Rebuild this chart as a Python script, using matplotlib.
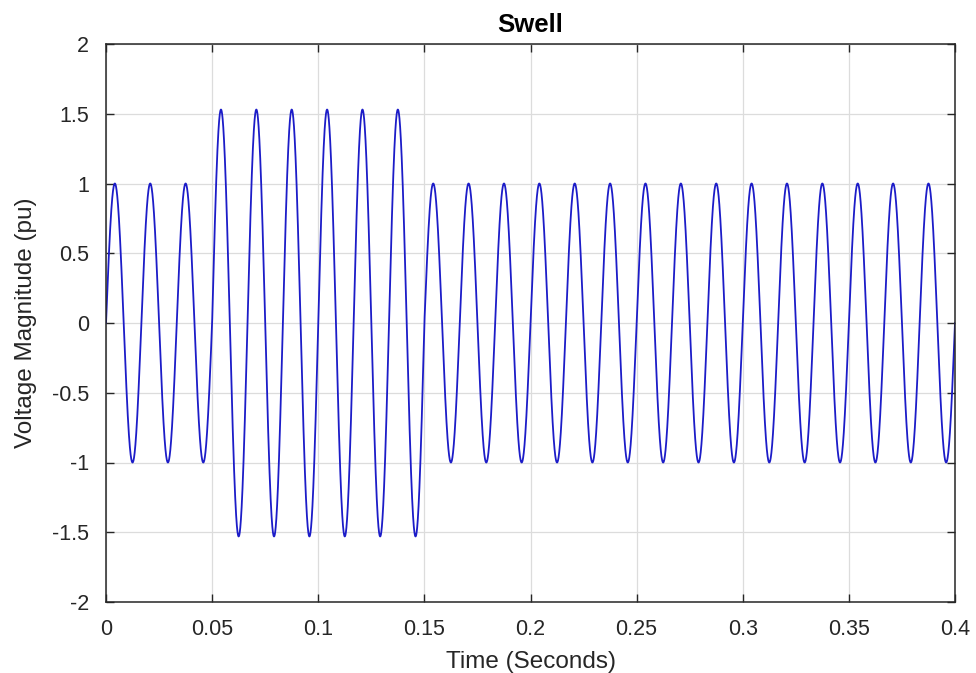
import numpy as np
import matplotlib
matplotlib.use("Agg")
import matplotlib.pyplot as plt

# waveform: 60 Hz, one peak amplitude per cycle
freq = 60.0
t_end = 0.4
cycle_amp = [1.0, 1.0, 1.0,
             1.53, 1.53, 1.53, 1.53, 1.53, 1.53,
             1.0, 1.0, 1.0, 1.0, 1.0, 1.0, 1.0, 1.0,
             1.0, 1.0, 1.0, 1.0, 1.0, 1.0, 1.0]

xticks = [0, 0.05, 0.1, 0.15, 0.2, 0.25, 0.3, 0.35, 0.4]
xtick_labels = ["0", "0.05", "0.1", "0.15", "0.2", "0.25", "0.3", "0.35", "0.4"]
yticks = [-2, -1.5, -1, -0.5, 0, 0.5, 1, 1.5, 2]
ytick_labels = ["-2", "-1.5", "-1", "-0.5", "0", "0.5", "1", "1.5", "2"]

t = np.linspace(0, t_end, 8000)
idx = np.minimum((t * freq).astype(int), len(cycle_amp) - 1)
amp = np.array(cycle_amp)[idx]
v = amp * np.sin(2 * np.pi * freq * t)

plt.rcParams['font.family'] = ['Liberation Sans', 'DejaVu Sans']
txt = '#262626'

fig = plt.figure(figsize=(9.76, 6.73), dpi=100)
ax = fig.add_axes([106 / 976, 1 - 602 / 673, 849 / 976, 558 / 673])

ax.plot(t, v, color='#1c1cc8', linewidth=1.3)

ax.set_xlim(0, 0.4)
ax.set_ylim(-2, 2)
ax.set_xticks(xticks)
ax.set_xticklabels(xtick_labels)
ax.set_yticks(yticks)
ax.set_yticklabels(ytick_labels)
ax.grid(True, color='#dcdcdc', linewidth=0.9)
ax.set_axisbelow(True)
ax.tick_params(direction='in', top=True, right=True, length=6, width=1,
               colors=txt, labelsize=15.5)
ax.tick_params(axis='x', pad=12)
ax.tick_params(axis='y', pad=12)
for s in ax.spines.values():
    s.set_color('#262626')
    s.set_linewidth(1.1)

ax.set_title("Swell", fontsize=18.5, fontweight='bold', color='black', pad=9)
ax.set_xlabel("Time (Seconds)", fontsize=17.5, color=txt, labelpad=8)
ax.set_ylabel("Voltage Magnitude (pu)", fontsize=17.5, color=txt, labelpad=11)

fig.savefig("out.png", dpi=100)
